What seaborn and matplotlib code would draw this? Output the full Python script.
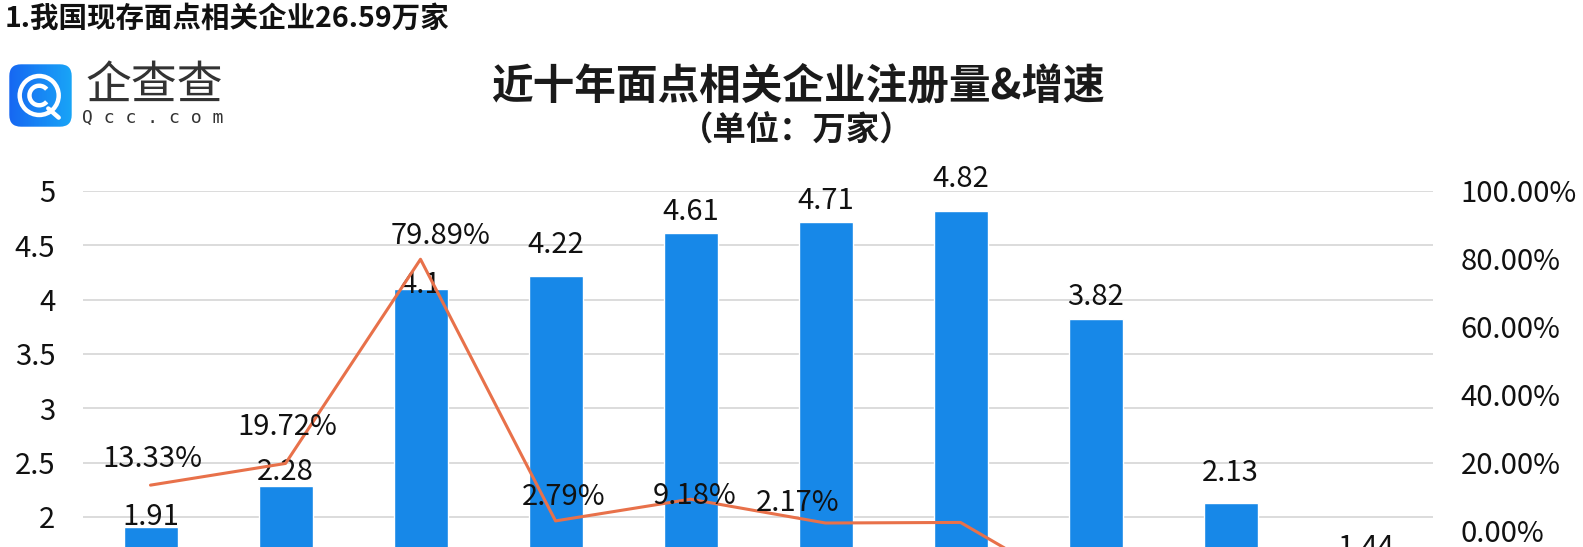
import numpy as np
import pandas as pd
import matplotlib
matplotlib.use("Agg")
import matplotlib.pyplot as plt
import seaborn as sns
from matplotlib.patches import FancyBboxPatch, Circle, Arc

# data
years = ["2012", "2013", "2014", "2015", "2016", "2017", "2018", "2019", "2020", "2021"]
counts = [1.91, 2.28, 4.10, 4.22, 4.61, 4.71, 4.82, 3.82, 2.13, 1.44]
growth = [13.33, 19.72, 79.89, 2.79, 9.18, 2.17, 2.34, -20.75, -44.24, -32.39]
count_labels = ["1.91", "2.28", "4.1", "4.22", "4.61", "4.71", "4.82", "3.82", "2.13", "1.44"]

# label nudges (pixels), as placed in the original
bar_dy = [10, 14, 4, 31, 21, 21, 32, 22, 30, 30]
line_dy = [26, 36, 23, 24, 3, 20]
line_dx = [2, 2, 20, 8, 4, -28]

sns.set_theme(style="white")
plt.rcParams["font.family"] = ["Noto Sans CJK SC", "DejaVu Sans"]

W, H = 1583, 547
fig = plt.figure(figsize=(W / 100, H / 100), dpi=100)
fig.patch.set_facecolor("white")

def fx(px):
    return px / W

def fy(py):
    return 1 - py / H

# plot area runs past the bottom edge (the screenshot is cropped there)
ax = fig.add_axes([fx(83), fy(734), fx(1433) - fx(83), fy(191) - fy(734)])
df = pd.DataFrame({"year": years, "count": counts, "growth": growth})

sns.barplot(data=df, x="year", y="count", color="#1788E8", width=0.4,
            saturation=1, ax=ax)
ax.set_ylim(0, 5)
ax.set_xlim(-0.5, len(years) - 0.5)
# gridlines every 0.5; only the labels from 2 up are inside the cropped picture
ax.set_yticks(np.arange(0, 5.01, 0.5), minor=True)
ax.set_yticks(np.arange(2, 5.01, 0.5))
ax.set_yticklabels([f"{v:g}" for v in np.arange(2, 5.01, 0.5)])
ax.set_xticklabels([])  # year axis falls outside the cropped picture
ax.grid(axis="y", which="both", color="#D9D9D9", linewidth=1.3)
ax.set_axisbelow(True)
ax.tick_params(axis="y", which="both", labelsize=21, pad=20, length=0, labelcolor="#111111")
ax.tick_params(axis="x", length=0)
ax.set_xlabel("")
ax.set_ylabel("")
for s in ax.spines.values():
    s.set_visible(False)

for i, (v, lab) in enumerate(zip(counts, count_labels)):
    ax.annotate(lab, (i, v), xytext=(0, bar_dy[i] * 0.72), textcoords="offset points",
                ha="center", va="center", fontsize=21, color="#111111")

ax2 = ax.twinx()
sns.lineplot(x=np.arange(len(years)), y=growth, ax=ax2, color="#E8714A",
             linewidth=2.2, marker=None)
ax2.set_ylim(-60, 100)
ax2.set_yticks(np.arange(0, 101, 20))
ax2.set_yticklabels([f"{v:.2f}%" for v in np.arange(0, 101, 20)])
ax2.tick_params(axis="y", labelsize=21, pad=20, length=0, labelcolor="#111111")
ax2.grid(False)
for s in ax2.spines.values():
    s.set_visible(False)

# the later growth labels sit below the crop, only the first six show
for i, g in enumerate(growth[:6]):
    ax2.annotate(f"{g:.2f}%", (i, g), xytext=(line_dx[i] * 0.72, line_dy[i] * 0.72),
                 textcoords="offset points", ha="center", va="center",
                 fontsize=21, color="#111111")

# titles
fig.text(fx(5), fy(19), "1.我国现存面点相关企业26.59万家", fontsize=20.5,
         fontweight="bold", ha="left", va="center", color="#111111")
fig.text(fx(798), fy(86), "近十年面点相关企业注册量&增速", fontsize=30,
         fontweight="bold", ha="center", va="center", color="#1a1a1a")
fig.text(fx(797), fy(131), "（单位：万家）", fontsize=24,
         fontweight="bold", ha="center", va="center", color="#1a1a1a")

# logo
lax = fig.add_axes([fx(8), fy(128), fx(73) - fx(8), fy(63) - fy(128)])
lax.set_xlim(0, 1)
lax.set_ylim(0, 1)
lax.axis("off")
box = FancyBboxPatch((0.02, 0.02), 0.96, 0.96, boxstyle="round,pad=0,rounding_size=0.18",
                     transform=lax.transAxes, facecolor="none", edgecolor="none")
lax.add_patch(box)
grad = np.linspace(0, 1, 100).reshape(1, -1)
im = lax.imshow(grad, extent=[0, 1, 0, 1], cmap=matplotlib.colors.LinearSegmentedColormap.from_list(
    "q", ["#1666F2", "#19A6F7"]), aspect="auto")
im.set_clip_path(box)
lax.add_patch(Circle((0.48, 0.5), 0.3, fill=False, edgecolor="white", linewidth=3.2))
lax.add_patch(Arc((0.48, 0.5), 0.3, 0.3, theta1=40, theta2=320, edgecolor="white", linewidth=3.2))
lax.plot([0.62, 0.78], [0.3, 0.16], color="white", linewidth=3.2, solid_capstyle="round")

fig.text(fx(154), fy(86), "企查查", fontsize=33, fontweight="medium", ha="center",
         va="center", color="#333333")
fig.text(fx(153), fy(118), "Q c c . c o m", fontsize=13, ha="center", va="center",
         color="#333333", family="DejaVu Sans Mono")

fig.savefig("out.png", dpi=100, facecolor="white")
